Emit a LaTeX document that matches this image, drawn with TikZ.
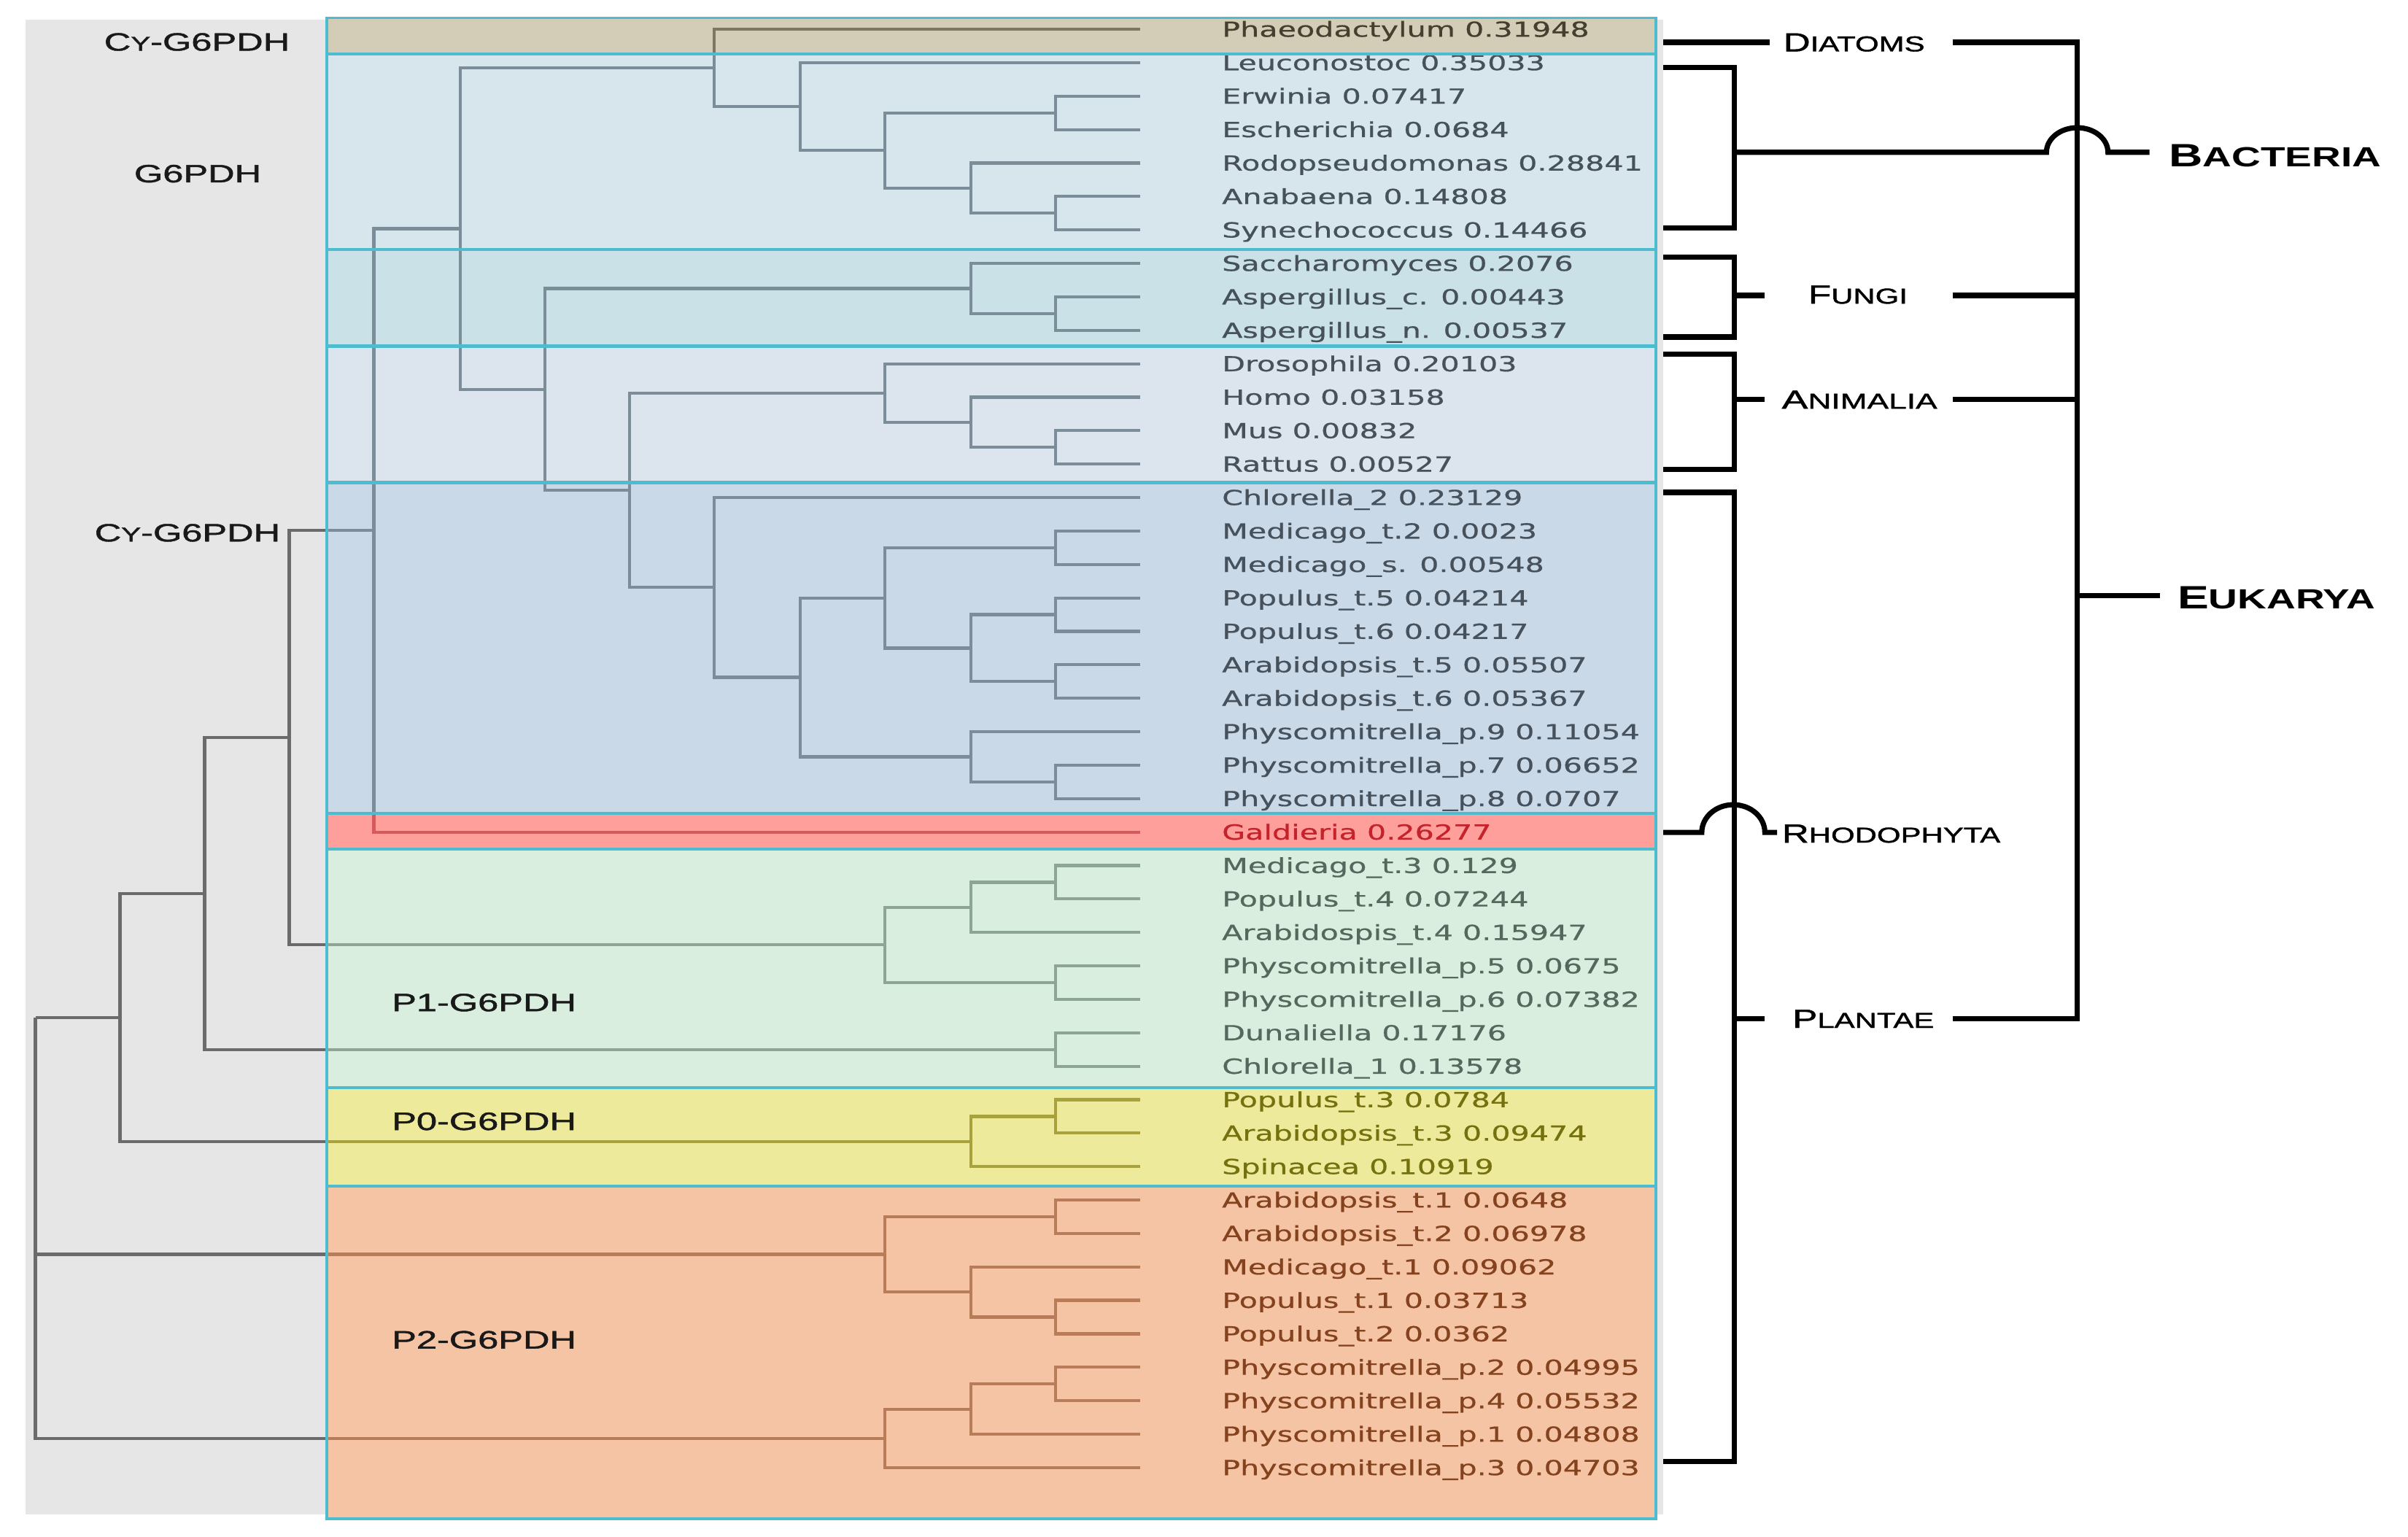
\documentclass[tikz,border=0pt]{standalone}
\usepackage{fontspec}
\setmainfont[FakeBold=0.5]{DejaVu Sans}
\newfontfamily\labfont{Liberation Sans}
\newfontfamily\grpfont[FakeBold=1.2]{Liberation Sans}
\usepackage{graphicx}

\definecolor{bggray}{HTML}{E6E6E6}
\definecolor{cDia}{HTML}{D3CDB7}
\definecolor{cBac}{HTML}{D6E6EC}
\definecolor{cFun}{HTML}{C9E1E7}
\definecolor{cAni}{HTML}{DCE4EE}
\definecolor{cPla}{HTML}{C9D9E8}
\definecolor{cRho}{HTML}{FF9F9C}
\definecolor{cPone}{HTML}{D9EEDF}
\definecolor{cPzero}{HTML}{EEEA9C}
\definecolor{cPtwo}{HTML}{F4C4A4}
\definecolor{cyanline}{HTML}{4CBCCE}
\definecolor{lGray}{HTML}{6B6B6B}
\definecolor{lDia}{HTML}{7D7660}
\definecolor{lBlue}{HTML}{7B8D99}
\definecolor{lRho}{HTML}{D45A5C}
\definecolor{lPone}{HTML}{8CA596}
\definecolor{lPzero}{HTML}{A9A23C}
\definecolor{lPtwo}{HTML}{B97C58}
\definecolor{tDia}{HTML}{453F30}
\definecolor{tBlue}{HTML}{46515B}
\definecolor{tRho}{HTML}{C4232B}
\definecolor{tPone}{HTML}{56675D}
\definecolor{tPzero}{HTML}{74710E}
\definecolor{tPtwo}{HTML}{84421E}

% small caps imitation: big size, small size, big letters, small letters, x-stretch
\newcommand\fakesc[5]{\scalebox{#5}[1]{{\fontsize{#1}{#1}\selectfont #3}{\fontsize{#2}{#2}\selectfont #4}}}

\newcommand\treelines{%
  \foreach \tpa/\tch in {nPha/l1,nPha/nLeu,nLeu/l2,nLeu/nBac,nBac/nEE,nBac/nRAS,
    nEE/l3,nEE/l4,nRAS/l5,nRAS/nAS,nAS/l6,nAS/l7,
    nTop/nPha,nTop/nFAP,nFAP/nFun,nFAP/nAnPl,nFun/l8,nFun/nAsp,nAsp/l9,nAsp/l10,
    nAnPl/nAni,nAnPl/nPlCy,nAni/l11,nAni/nHMR,nHMR/l12,nHMR/nMR,nMR/l13,nMR/l14,
    nPlCy/l15,nPlCy/nLand,nLand/nMPA,nLand/nPhy,nMPA/nMed,nMPA/nPA,nMed/l16,nMed/l17,
    nPA/nPop,nPA/nAra,nPop/l18,nPop/l19,nAra/l20,nAra/l21,nPhy/l22,nPhy/nPse,
    nPse/l23,nPse/l24,nCy/nTop,nCy/l25,nCyP/nCy,nCyP/nPone,
    nPone/nMPAf,nPone/nPsf,nMPAf/nMP,nMPAf/l28,nMP/l26,nMP/l27,nPsf/l29,nPsf/l30,
    nOne/nCyP,nOne/nDC,nDC/l31,nDC/l32,nTwo/nOne,nTwo/nPzero,nPzero/nPAt,nPzero/l35,
    nPAt/l33,nPAt/l34,nRoot/nTwo,nRoot/nPtwoa,nRoot/nPtwob,
    nPtwoa/nAto,nPtwoa/nMPt,nAto/l36,nAto/l37,nMPt/l38,nMPt/nPto,nPto/l39,nPto/l40,
    nPtwob/nPfl,nPtwob/l44,nPfl/nPfo,nPfl/l43,nPfo/l41,nPfo/l42}
  {\draw[treeline] (\tpa) |- (\tch);}%
}

\begin{document}
\begin{tikzpicture}[x=1pt,y=-1pt,
  treeline/.style={line width=2pt},
  bandline/.style={draw=cyanline,line width=1.8pt},
  bracket/.style={line width=3.4pt,draw=black},
  taxon/.style={anchor=base west,inner sep=0pt,font=\fontsize{13.5}{15}\selectfont},
  grp/.style={inner sep=0pt,font=\grpfont\fontsize{16.3}{18}\selectfont,text=black!90},
  kingdom/.style={inner sep=0pt,anchor=base,font=\grpfont,text=black},
  kingdomb/.style={inner sep=0pt,anchor=base west,font=\labfont\bfseries,text=black}]

\useasboundingbox (0,0) rectangle (1565,998.5);
\fill[white] (0,0) rectangle (1565,998.5);

% backgrounds
\fill[bggray] (16.6,12.7) rectangle (1081,984);
\fill[cDia] (212.5,11.6) rectangle (1076,35);
\fill[cBac] (212.5,35) rectangle (1076,162);
\fill[cFun] (212.5,162) rectangle (1076,225);
\fill[cAni] (212.5,225) rectangle (1076,313.5);
\fill[cPla] (212.5,313.5) rectangle (1076,528.5);
\fill[cRho] (212.5,528.5) rectangle (1076,552);
\fill[cPone] (212.5,552) rectangle (1076,707);
\fill[cPzero] (212.5,707) rectangle (1076,771);
\fill[cPtwo] (212.5,771) rectangle (1076,987);

% internal nodes of the tree
\coordinate (nPha) at (464,44.14);
\coordinate (nLeu) at (520,69.28);
\coordinate (nBac) at (575,97.81);
\coordinate (nEE) at (686,73.35);
\coordinate (nRAS) at (631,122.27);
\coordinate (nAS) at (686,138.57);
\coordinate (nFun) at (631,187.49);
\coordinate (nAsp) at (686,203.79);
\coordinate (nAni) at (575,255.42);
\coordinate (nHMR) at (631,274.45);
\coordinate (nMR) at (686,290.75);
\coordinate (nMed) at (686,355.97);
\coordinate (nPop) at (686,399.45);
\coordinate (nAra) at (686,442.93);
\coordinate (nPA) at (631,421.19);
\coordinate (nMPA) at (575,388.58);
\coordinate (nPse) at (686,508.15);
\coordinate (nPhy) at (631,491.85);
\coordinate (nLand) at (520,440.2);
\coordinate (nPlCy) at (464,381.8);
\coordinate (nAnPl) at (409,318.6);
\coordinate (nFAP) at (354,253.0);
\coordinate (nTop) at (299,148.6);
\coordinate (nCy) at (243,344.7);
\coordinate (nMP) at (686,573.37);
\coordinate (nMPAf) at (631,589.7);
\coordinate (nPsf) at (686,638.59);
\coordinate (nPone) at (575,614.1);
\coordinate (nCyP) at (188,479.4);
\coordinate (nDC) at (686,682.07);
\coordinate (nOne) at (133,580.7);
\coordinate (nPAt) at (686,725.55);
\coordinate (nPzero) at (631,741.86);
\coordinate (nTwo) at (78,661.3);
\coordinate (nAto) at (686,790.77);
\coordinate (nPto) at (686,855.99);
\coordinate (nMPt) at (631,839.7);
\coordinate (nPtwoa) at (575,815.2);
\coordinate (nPfo) at (686,899.47);
\coordinate (nPfl) at (631,915.8);
\coordinate (nPtwob) at (575,934.8);
\coordinate (nRoot) at (23,661.3);

% leaves and their labels
\foreach \li/\lname/\lcol in {
 1/Phaeodactylum 0.31948/tDia,
 2/Leuconostoc 0.35033/tBlue,
 3/Erwinia 0.07417/tBlue,
 4/Escherichia 0.0684/tBlue,
 5/Rodopseudomonas 0.28841/tBlue,
 6/Anabaena 0.14808/tBlue,
 7/Synechococcus 0.14466/tBlue,
 8/Saccharomyces 0.2076/tBlue,
 9/Aspergillus\_c. 0.00443/tBlue,
 10/Aspergillus\_n. 0.00537/tBlue,
 11/Drosophila 0.20103/tBlue,
 12/Homo 0.03158/tBlue,
 13/Mus 0.00832/tBlue,
 14/Rattus 0.00527/tBlue,
 15/Chlorella\_2 0.23129/tBlue,
 16/Medicago\_t.2 0.0023/tBlue,
 17/Medicago\_s. 0.00548/tBlue,
 18/Populus\_t.5 0.04214/tBlue,
 19/Populus\_t.6 0.04217/tBlue,
 20/Arabidopsis\_t.5 0.05507/tBlue,
 21/Arabidopsis\_t.6 0.05367/tBlue,
 22/Physcomitrella\_p.9 0.11054/tBlue,
 23/Physcomitrella\_p.7 0.06652/tBlue,
 24/Physcomitrella\_p.8 0.0707/tBlue,
 25/Galdieria 0.26277/tRho,
 26/Medicago\_t.3 0.129/tPone,
 27/Populus\_t.4 0.07244/tPone,
 28/Arabidospis\_t.4 0.15947/tPone,
 29/Physcomitrella\_p.5 0.0675/tPone,
 30/Physcomitrella\_p.6 0.07382/tPone,
 31/Dunaliella 0.17176/tPone,
 32/Chlorella\_1 0.13578/tPone,
 33/Populus\_t.3 0.0784/tPzero,
 34/Arabidopsis\_t.3 0.09474/tPzero,
 35/Spinacea 0.10919/tPzero,
 36/Arabidopsis\_t.1 0.0648/tPtwo,
 37/Arabidopsis\_t.2 0.06978/tPtwo,
 38/Medicago\_t.1 0.09062/tPtwo,
 39/Populus\_t.1 0.03713/tPtwo,
 40/Populus\_t.2 0.0362/tPtwo,
 41/Physcomitrella\_p.2 0.04995/tPtwo,
 42/Physcomitrella\_p.4 0.05532/tPtwo,
 43/Physcomitrella\_p.1 0.04808/tPtwo,
 44/Physcomitrella\_p.3 0.04703/tPtwo}
{
  \pgfmathsetmacro\yy{19+(\li-1)*21.74}
  \coordinate (l\li) at (741,\yy);
  \node[taxon,text=\lcol] (t\li) at (794,\yy+4.9) {\scalebox{1.45}[1]{\lname}};
}

% tree, coloured band by band
\begin{scope}
  \clip (0,0) rectangle (212.5,998.5);
  \begin{scope}[color=lGray]\treelines\end{scope}
\end{scope}
\foreach \ya/\yb/\lc in {11.6/35/lDia,35/528.5/lBlue,528.5/552/lRho,552/707/lPone,707/771/lPzero,771/987/lPtwo}
{
  \begin{scope}
    \clip (212.5,\ya) rectangle (1076,\yb);
    \begin{scope}[color=\lc]\treelines\end{scope}
  \end{scope}
}

% band borders
\foreach \yy in {35,162,528.5,552,707,771} {\draw[bandline] (212.5,\yy) -- (1076,\yy);}
\foreach \yy in {225,313.5} {\draw[bandline,line width=2.6pt] (212.5,\yy) -- (1076,\yy);}
\draw[bandline] (212.5,11.6) rectangle (1076,987);

% group labels on the left
\node[grp,anchor=base] (gCyTop) at (128,32.9) {\scalebox{1.47}[1]{C{\fontsize{13}{13}\selectfont Y}-G6PDH}};
\node[grp,anchor=base] (gGsix) at (128.5,118.5) {\scalebox{1.47}[1]{G6PDH}};
\node[grp,anchor=base east] (gCyMid) at (182.3,351.9) {\scalebox{1.47}[1]{C{\fontsize{13}{13}\selectfont Y}-G6PDH}};
\node[grp,anchor=base west] (gPone) at (254.5,657.2) {\scalebox{1.47}[1]{P1-G6PDH}};
\node[grp,anchor=base west] (gPzero) at (254.5,734.4) {\scalebox{1.47}[1]{P0-G6PDH}};
\node[grp,anchor=base west] (gPtwo) at (254.5,876.4) {\scalebox{1.47}[1]{P2-G6PDH}};

% kingdom labels on the right
\node[kingdom] (kDia) at (1205,33.4) {\fakesc{17}{14}{D}{IATOMS}{1.42}};
\node[kingdom] (kFun) at (1207.5,197.3) {\fakesc{17}{14}{F}{UNGI}{1.42}};
\node[kingdom] (kAni) at (1208.5,265.6) {\fakesc{17}{14}{A}{NIMALIA}{1.5}};
\node[kingdom] (kPla) at (1211,668) {\fakesc{17}{14}{P}{LANTAE}{1.42}};
\node[kingdom,anchor=base west] (kRho) at (1158,547.6) {\fakesc{17}{14}{R}{HODOPHYTA}{1.42}};
\node[kingdomb] (kBac) at (1409.5,108.4) {\fakesc{21}{18}{B}{ACTERIA}{1.45}};
\node[kingdomb] (kEuk) at (1415,395.5) {\fakesc{21}{18}{E}{UKARYA}{1.45}};

% bracket points
\coordinate (bDiaA) at (1081,27.5);
\coordinate (bDiaB) at (1150,27.5);
\coordinate (bDiaC) at (1269,27.5);
\coordinate (bTopR) at (1350,27.5);
\coordinate (bPlaR) at (1350,662);
\coordinate (bPlaC) at (1269,662);
\coordinate (bBacT) at (1081,44);
\coordinate (bBacB) at (1081,148);
\coordinate (bBacM) at (1127,99);
\coordinate (bBacJ) at (1330,99);
\coordinate (bBacE) at (1397,99);
\coordinate (bFunT) at (1081,167);
\coordinate (bFunB) at (1081,219);
\coordinate (bFunM) at (1127,192);
\coordinate (bFunK) at (1147,192);
\coordinate (bFunC) at (1269,192);
\coordinate (bFunR) at (1350,192);
\coordinate (bAniT) at (1081,230);
\coordinate (bAniB) at (1081,305);
\coordinate (bAniM) at (1127,259.5);
\coordinate (bAniK) at (1147,259.5);
\coordinate (bAniC) at (1269,259.5);
\coordinate (bAniR) at (1350,259.5);
\coordinate (bPlaT) at (1081,320);
\coordinate (bPlaB) at (1081,950);
\coordinate (bPlaM) at (1127,662);
\coordinate (bPlaK) at (1147,662);
\coordinate (bRhoA) at (1081,541);
\coordinate (bRhoJ) at (1106,541);
\coordinate (bRhoE) at (1155,541);
\coordinate (bEukA) at (1350,387);
\coordinate (bEukB) at (1404,387);

\draw[bracket] (bDiaA) -- (bDiaB);
\draw[bracket] (bDiaC) -- (bTopR) -- (bPlaR) -- (bPlaC);
\draw[bracket] (bBacT) -| (bBacM) |- (bBacB);
\draw[bracket] (bBacM) -- (bBacJ) arc[start angle=180,end angle=0,x radius=20pt,y radius=16pt] -- (bBacE);
\draw[bracket] (bFunT) -| (bFunM) |- (bFunB);
\draw[bracket] (bFunM) -- (bFunK);
\draw[bracket] (bFunC) -- (bFunR);
\draw[bracket] (bAniT) -| (bAniM) |- (bAniB);
\draw[bracket] (bAniM) -- (bAniK);
\draw[bracket] (bAniC) -- (bAniR);
\draw[bracket] (bPlaT) -| (bPlaM) |- (bPlaB);
\draw[bracket] (bPlaM) -- (bPlaK);
\draw[bracket] (bRhoA) -- (bRhoJ) arc[start angle=180,end angle=0,x radius=20.5pt,y radius=18pt] -- (bRhoE);
\draw[bracket] (bEukA) -- (bEukB);
\end{tikzpicture}
\end{document}
